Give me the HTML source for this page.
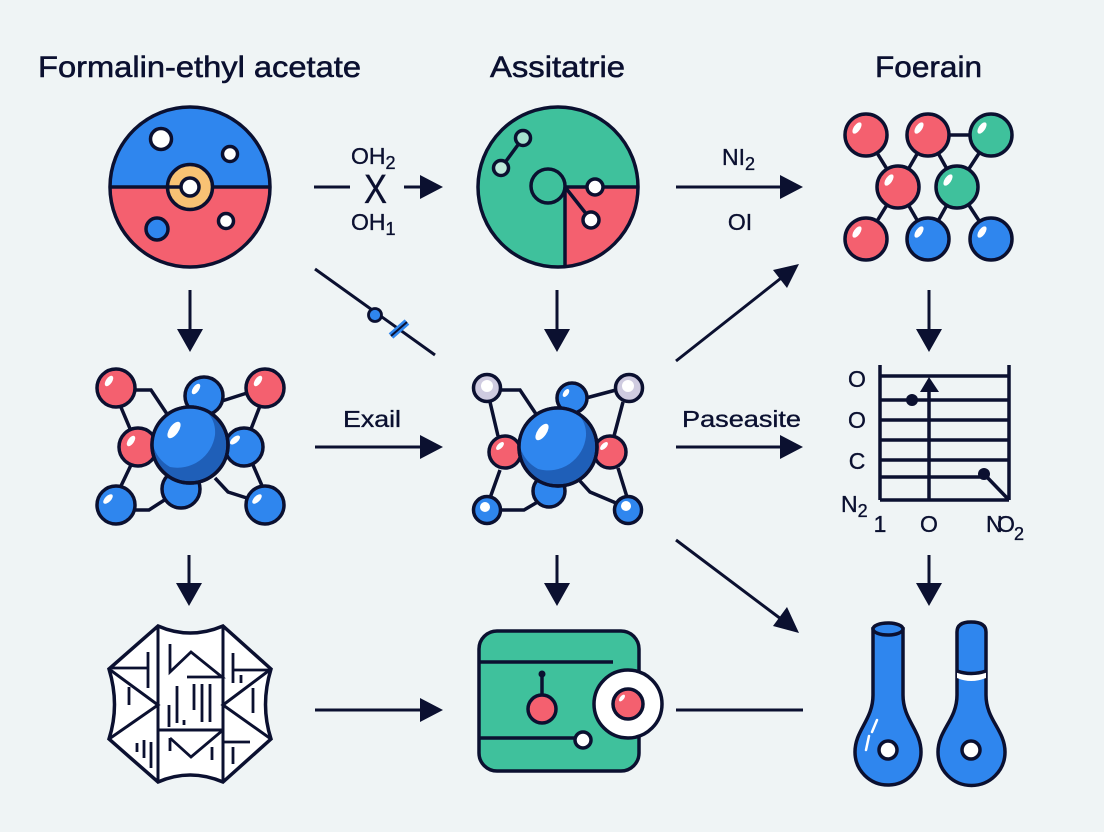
<!DOCTYPE html>
<html><head><meta charset="utf-8">
<style>
html,body{margin:0;padding:0;background:#eff4f5;width:1104px;height:832px;overflow:hidden}
svg{display:block}
text{font-family:"Liberation Sans",sans-serif;fill:#0b1030;stroke:#0b1030;stroke-width:.35px}
.t{stroke-width:.55px}
.k{stroke:#0b1030;stroke-width:3.5}
.n{fill:none}
.c{stroke:#0b1030;stroke-width:2.8;fill:none}
.a{stroke:#0b1030;fill:none;stroke-width:3}
.h{fill:#0b1030;stroke:none}
.o{stroke:#0b1030;stroke-width:3.5}
.s{fill:#fff;stroke:none}
.l{font-size:23px}
.sub{font-size:18px}
</style></head><body>
<svg width="1104" height="832" viewBox="0 0 1104 832" xmlns="http://www.w3.org/2000/svg">
<rect width="1104" height="832" fill="#eff4f5"/>
<defs>
<clipPath id="c1"><circle cx="190" cy="187" r="80"/></clipPath>
</defs>

<!-- titles -->
<text x="38" y="77" font-size="30" class="t" textLength="323" lengthAdjust="spacingAndGlyphs">Formalin-ethyl acetate</text>
<text x="490" y="77" font-size="30" class="t" textLength="135" lengthAdjust="spacingAndGlyphs">Assitatrie</text>
<text x="875" y="77" font-size="30" class="t" textLength="107" lengthAdjust="spacingAndGlyphs">Foerain</text>

<!-- circle 1 -->
<g clip-path="url(#c1)">
<rect x="100" y="100" width="180" height="87" fill="#2f86ee"/>
<rect x="100" y="187" width="180" height="90" fill="#f4606f"/>
</g>
<circle cx="190" cy="187" r="80" class="k n"/>
<line x1="110" y1="187" x2="270" y2="187" class="k"/>
<circle cx="190" cy="187" r="22.5" fill="#f8c274" class="o"/>
<line x1="168" y1="187" x2="182" y2="187" class="k"/>
<circle cx="190" cy="187" r="9" fill="#fff" class="o"/>
<circle cx="161" cy="139" r="10.5" fill="#fff" class="o"/>
<circle cx="230" cy="154" r="7.5" fill="#fff" class="o"/>
<circle cx="226" cy="221" r="7.5" fill="#fff" class="o"/>
<circle cx="157" cy="229" r="11" fill="#2f86ee" class="o"/>

<!-- circle 2 -->
<circle cx="558" cy="187" r="80" fill="#3fc19c"/>
<path d="M565 187 H638 A80 80 0 0 1 565 266.7 Z" fill="#f4606f"/>
<circle cx="558" cy="187" r="80" class="k n"/>
<path d="M565 187 H638 M565 187 V267 M565 187 L591 220" class="k n"/>
<line x1="523" y1="138" x2="501" y2="168" class="k"/>
<circle cx="523" cy="138" r="7.5" fill="#a5e3cf" class="o"/>
<circle cx="501" cy="168" r="7.5" fill="#bde9da" class="o"/>
<circle cx="548" cy="186" r="17" fill="#3fc19c" class="o"/>
<circle cx="595" cy="187" r="8" fill="#fff" class="o"/>
<circle cx="591" cy="220" r="8" fill="#fff" class="o"/>

<!-- grid molecule -->
<path d="M866 135 L898 187 M928 135 L898 187 M928 135 H991 M928 135 L957 187 M991 135 L957 187 M898 187 L866 239 M898 187 L928 239 M957 187 L928 239 M957 187 L991 239" class="k n"/>
<g class="o">
<circle cx="866" cy="135" r="21" fill="#f4606f"/>
<circle cx="928" cy="135" r="21" fill="#f4606f"/>
<circle cx="991" cy="135" r="21" fill="#3fc19c"/>
<circle cx="898" cy="187" r="21" fill="#f4606f"/>
<circle cx="957" cy="187" r="21" fill="#3fc19c"/>
<circle cx="866" cy="239" r="21" fill="#f4606f"/>
<circle cx="928" cy="239" r="21" fill="#2f86ee"/>
<circle cx="991" cy="239" r="21" fill="#2f86ee"/>
</g>
<g class="s">
<ellipse cx="857" cy="128" rx="3.2" ry="6.5" transform="rotate(35 857 128)"/>
<ellipse cx="919" cy="128" rx="3.2" ry="6.5" transform="rotate(35 919 128)"/>
<ellipse cx="982" cy="128" rx="3.2" ry="6.5" transform="rotate(35 982 128)"/>
<ellipse cx="889" cy="180" rx="3.2" ry="6.5" transform="rotate(35 889 180)"/>
<ellipse cx="948" cy="180" rx="3.2" ry="6.5" transform="rotate(35 948 180)"/>
<ellipse cx="857" cy="232" rx="3.2" ry="6.5" transform="rotate(35 857 232)"/>
<ellipse cx="919" cy="232" rx="3.2" ry="6.5" transform="rotate(35 919 232)"/>
<ellipse cx="982" cy="232" rx="3.2" ry="6.5" transform="rotate(35 982 232)"/>
</g>

<!-- molecule left -->
<path d="M134 390 H151 L167 414 M120 405 L131 431 M131 465 L120 488 M134 510 H149 L166 499 M215 478 L228 492 L250 499 M253 465 L263 488 M260 406 L251 429 M222 401 L247 393" class="k n"/>
<g class="o">
<circle cx="116" cy="388" r="19" fill="#f4606f"/>
<circle cx="265" cy="388" r="19" fill="#f4606f"/>
<circle cx="204" cy="396" r="19" fill="#2f86ee"/>
<circle cx="138" cy="447" r="19" fill="#f4606f"/>
<circle cx="244" cy="447" r="19" fill="#2f86ee"/>
<circle cx="181" cy="489" r="19" fill="#2f86ee"/>
<circle cx="116" cy="505" r="19" fill="#2f86ee"/>
<circle cx="265" cy="505" r="19" fill="#2f86ee"/>
<circle cx="190" cy="445" r="38" fill="#1f5fb8"/>
</g>
<path d="M153 445 A37 37 0 0 1 208 413 A30 30 0 0 1 215 435 A38 38 0 0 1 170 467 A37 37 0 0 1 153 445 Z" fill="#2f86ee"/>
<circle cx="190" cy="445" r="38" class="k n"/>
<g class="s">
<ellipse cx="174" cy="430" rx="4.5" ry="9.5" transform="rotate(35 174 430)"/>
<ellipse cx="109" cy="381" rx="3" ry="6" transform="rotate(35 109 381)"/>
<ellipse cx="258" cy="381" rx="3" ry="6" transform="rotate(35 258 381)"/>
<ellipse cx="196" cy="389" rx="3" ry="6" transform="rotate(35 196 389)"/>
<ellipse cx="131" cy="441" rx="3" ry="6" transform="rotate(35 131 441)"/>
<ellipse cx="235" cy="440" rx="3" ry="6" transform="rotate(50 235 440)"/>
<ellipse cx="108" cy="499" rx="3" ry="6" transform="rotate(45 108 499)"/>
<ellipse cx="257" cy="499" rx="3" ry="6" transform="rotate(45 257 499)"/>
</g>

<!-- molecule center -->
<path d="M500 390 H520 L536 414 M490 402 L498 436 M500 470 L490 498 M500 510 H524 L541 500 M580 481 L590 492 L616 503 M618 468 L627 497 M623 402 L614 436 M586 398 L616 390" class="k n"/>
<g class="o">
<circle cx="487" cy="388" r="13.5" fill="#cfcbe0"/>
<circle cx="629" cy="388" r="13.5" fill="#cfcbe0"/>
<circle cx="572" cy="398" r="15" fill="#2f86ee"/>
<circle cx="505" cy="452" r="16" fill="#f4606f"/>
<circle cx="610" cy="452" r="16" fill="#f4606f"/>
<circle cx="549" cy="491" r="16" fill="#2f86ee"/>
<circle cx="487" cy="510" r="13.5" fill="#2f86ee"/>
<circle cx="628" cy="510" r="13.5" fill="#2f86ee"/>
<circle cx="558" cy="447" r="39" fill="#1f5fb8"/>
</g>
<path d="M520 447 A38 38 0 0 1 578 414 A30 30 0 0 1 586 436 A38 38 0 0 1 538 469 A38 38 0 0 1 520 447 Z" fill="#2f86ee"/>
<circle cx="558" cy="447" r="39" class="k n"/>
<g class="s">
<ellipse cx="542" cy="432" rx="4.5" ry="9.5" transform="rotate(35 542 432)"/>
<circle cx="487" cy="386" r="6"/>
<circle cx="628" cy="386" r="6"/>
<ellipse cx="566" cy="393" rx="2.5" ry="4.5" transform="rotate(35 566 393)"/>
<ellipse cx="500" cy="446" rx="2.5" ry="5" transform="rotate(45 500 446)"/>
<ellipse cx="604" cy="446" rx="2.5" ry="5" transform="rotate(45 604 446)"/>
<circle cx="485" cy="507" r="5"/>
<circle cx="626" cy="506" r="5"/>
</g>

<!-- chart -->
<path d="M880 365 V500 M1009 365 V500 M880 376 H1009 M880 400 H1009 M880 420 H1009 M880 440 H1009 M880 460 H1009 M880 477 H984 M880 500 H1009 M929 500 V385 M984 474 L1009 500" class="k n"/>
<path d="M929 377 L939 392 H920 Z" class="h"/>
<circle cx="912" cy="400" r="6" class="h"/>
<circle cx="984" cy="474" r="6" class="h"/>
<text x="857" y="387" class="l" text-anchor="middle">O</text>
<text x="857" y="428" class="l" text-anchor="middle">O</text>
<text x="857" y="469" class="l" text-anchor="middle">C</text>
<text x="841" y="512" class="l">N<tspan class="sub" dy="5">2</tspan></text>
<text x="880" y="532" class="l" text-anchor="middle">1</text>
<text x="929" y="532" class="l" text-anchor="middle">O</text>
<text x="986" y="532" class="l">N</text>
<text x="997" y="532" class="l">O</text>
<text x="1014" y="540" class="sub">2</text>

<!-- crystal -->
<path d="M158 626 Q190 640 223 626 L271 669 Q260 705 271 739 L223 782 Q190 768 158 782 L109 739 Q120 705 109 669 Z" fill="#fff" class="k"/>
<path d="M158 626 V782 M223 626 V782 M109 669 L158 705 L109 739 M271 669 L223 705 L271 739 M158 730 H223" class="c" style="stroke-width:3"/>
<path d="M112 668 H148 M148 652 V688 M129 687 V705 M170 644 V672 L191 652 L222 677 H187 M233 653 V683 M233 670 H271 M241 675 V683 M253 688 V713 M169 705 V727 M177 686 V723 M184 720 V725 M194 684 V710 M202 684 V722 M210 684 V722 M137 743 V752 M144 740 V758 M151 742 V768 M170 738 V751 M170 738 L191 757 L223 730 M212 747 V760 M223 742 H250 M233 747 V764" class="c"/>

<!-- green box -->
<rect x="479" y="631" width="160" height="140" rx="18" fill="#3fc19c" class="k"/>
<path d="M479 662 H613 M479 738 H576 M542 674 V699" class="k n"/>
<circle cx="542" cy="674" r="3.5" class="h"/>
<circle cx="542" cy="709" r="14" fill="#f4606f" class="o"/>
<circle cx="583" cy="740" r="8" fill="#fff" class="o"/>
<circle cx="628" cy="704" r="34" fill="#fff" class="o"/>
<circle cx="628" cy="704" r="15" fill="#f4606f" class="o"/>
<ellipse cx="622" cy="698" rx="2" ry="4" transform="rotate(40 622 698)" fill="#fff"/>

<!-- flasks -->
<path d="M873 629 V695 C873 720 855 730 855 752 A33 33 0 0 0 921 752 C921 730 903 720 903 695 V629 Z" fill="#2f86ee" class="k"/>
<ellipse cx="888" cy="629" rx="15" ry="6" fill="#2f86ee" class="k"/>
<path d="M877 720 L872 732 M869 736 L866 750" stroke="#fff" stroke-width="2.5" fill="none" stroke-linecap="round"/>
<circle cx="888" cy="750" r="9" fill="#fff" class="o"/>
<path d="M957 632 Q957 622 971 622 Q986 622 986 632 V695 C986 720 1005 730 1005 752 A33.5 33.5 0 0 1 938 752 C938 730 957 720 957 695 Z" fill="#2f86ee" class="k"/>
<path d="M957 672 Q971 678 986 672 V678 Q971 684 957 678 Z" fill="#fff" stroke="none"/>
<path d="M957 671 Q971 676 986 671" class="k n"/>
<circle cx="971" cy="750" r="9" fill="#fff" class="o"/>

<!-- connectors -->
<path d="M190 290 V332 M557 290 V332 M929 290 V332 M189 555 V585 M557 555 V585 M929 555 V585 M314 187 H350 M404 187 H422 M676 187 H785 M315 447 H425 M676 447 H785 M315 710 H425 M676 710 H803 M676 361 L785 275 M676 540 L785 622 M315 269 L435 355" class="a"/>
<g class="h">
<path d="M177 329 H203 L190 352 Z"/>
<path d="M544 329 H570 L557 352 Z"/>
<path d="M916 329 H942 L929 352 Z"/>
<path d="M176 583 H202 L189 606 Z"/>
<path d="M544 583 H570 L557 606 Z"/>
<path d="M916 583 H942 L929 606 Z"/>
<path d="M420 175 L443 187 L420 199 Z"/>
<path d="M780 175 L803 187 L780 199 Z"/>
<path d="M420 435 L443 447 L420 459 Z"/>
<path d="M780 435 L803 447 L780 459 Z"/>
<path d="M420 698 L443 710 L420 722 Z"/>
<path d="M799 264 L787 288 L773 270 Z"/>
<path d="M799 633 L773 626 L787 607 Z"/>
</g>
<circle cx="375" cy="315" r="6.5" fill="#2f86ee" class="o" style="stroke-width:2.8"/>
<path d="M407 322 L391 336" stroke="#2f86ee" stroke-width="7" fill="none"/>
<path d="M407 322 L391 336" stroke="#0b1030" stroke-width="2" fill="none"/>

<!-- labels -->
<text x="351" y="164" class="l">OH<tspan class="sub" dy="5">2</tspan></text>
<text x="351" y="230" class="l">OH<tspan class="sub" dy="5">1</tspan></text>
<text x="364" y="203" font-size="41" textLength="23" lengthAdjust="spacingAndGlyphs">X</text>
<text x="722" y="165" class="l">NI<tspan class="sub" dy="5">2</tspan></text>
<text x="740" y="230" class="l" text-anchor="middle">OI</text>
<text x="343" y="427" class="l" textLength="58" lengthAdjust="spacingAndGlyphs">Exail</text>
<text x="682" y="427" class="l" textLength="119" lengthAdjust="spacingAndGlyphs">Paseasite</text>
</svg>
</body></html>
